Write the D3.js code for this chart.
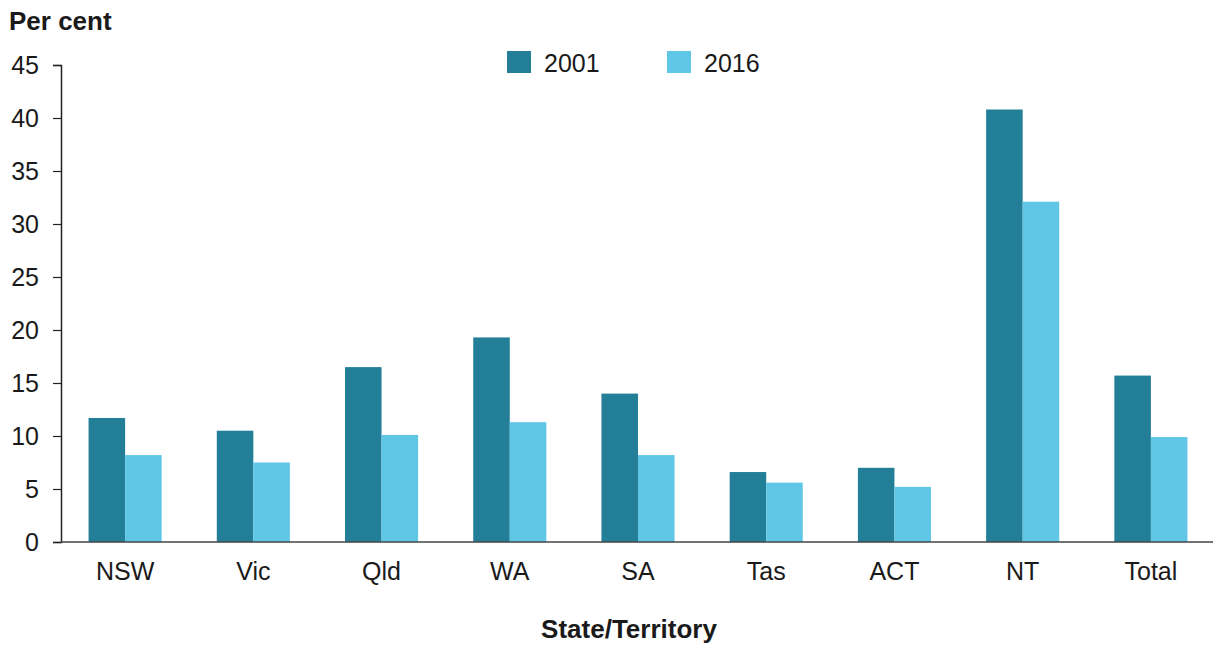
<!DOCTYPE html>
<html>
<head>
<meta charset="utf-8">
<script src="https://cdn.jsdelivr.net/npm/d3@7"></script>
<style>
  body { margin: 0; background: #fff; }
  text { font-family: "Liberation Sans", Arial, sans-serif; fill: #1a1a1a; }
</style>
</head>
<body>
<svg id="chart" width="1213" height="646"></svg>
<script>
var states = ["NSW", "Vic", "Qld", "WA", "SA", "Tas", "ACT", "NT", "Total"];
var years = ["2001", "2016"];
var val2001 = [11.7, 10.5, 16.5, 19.3, 14.0, 6.6, 7.0, 40.8, 15.7];
var val2016 = [8.2, 7.5, 10.1, 11.3, 8.2, 5.6, 5.2, 32.1, 9.9];
var yTicks = [0, 5, 10, 15, 20, 25, 30, 35, 40, 45];
var colors = ["#237f97", "#5fc6e6"];

var svg = d3.select("#chart");

var x = d3.scaleBand()
	.domain(states)
	.range([61, 1215])
	.paddingInner(0.43)
	.paddingOuter(0.215);

var xInner = d3.scaleBand()
	.domain(years)
	.range([0, x.bandwidth()]);

var y = d3.scaleLinear()
	.domain([0, 45])
	.range([542, 65]);

var rows = states.map(function(s, i) {
	return { state: s, values: [val2001[i], val2016[i]] };
});

// bars
var groups = svg.append("g")
	.selectAll("g")
	.data(rows)
	.enter()
	.append("g")
	.attr("transform", function(d) { return "translate(" + x(d.state) + ",0)"; });

groups.selectAll("rect")
	.data(function(d) {
		return d.values.map(function(v, j) { return { year: years[j], v: v, j: j }; });
	})
	.enter()
	.append("rect")
	.attr("x", function(d) { return xInner(d.year); })
	.attr("y", function(d) { return y(d.v); })
	.attr("width", xInner.bandwidth())
	.attr("height", function(d) { return y(0) - y(d.v); })
	.style("fill", function(d) { return colors[d.j]; });

// y axis
var yAxis = svg.append("g")
	.attr("transform", "translate(61,0)")
	.call(d3.axisLeft(y).tickValues(yTicks).tickSize(8).tickPadding(14));
yAxis.select(".domain").attr("stroke", "#222").attr("stroke-width", 1.5);
yAxis.selectAll(".tick line").attr("stroke", "#222").attr("stroke-width", 1.2);
yAxis.selectAll(".tick text")
	.style("font-size", "25px")
	.attr("fill", "#1a1a1a")
	.attr("dy", "0.35em");

// x axis
var xAxis = svg.append("g")
	.attr("transform", "translate(0," + y(0) + ")")
	.call(d3.axisBottom(x).tickSize(0).tickPadding(20));
xAxis.select(".domain")
	.attr("d", "M61,0H1213")
	.attr("stroke", "#444")
	.attr("stroke-width", 1.5);
xAxis.selectAll(".tick text")
	.style("font-size", "25px")
	.attr("fill", "#1a1a1a");

// titles
svg.append("text")
	.attr("x", 9)
	.attr("y", 30)
	.style("font-size", "26px")
	.style("font-weight", "bold")
	.text("Per cent");

svg.append("text")
	.attr("x", 629)
	.attr("y", 638)
	.attr("text-anchor", "middle")
	.style("font-size", "26px")
	.style("font-weight", "bold")
	.text("State/Territory");

// legend
var legend = svg.append("g")
	.selectAll("g")
	.data(years)
	.enter()
	.append("g")
	.attr("transform", function(d, i) { return "translate(" + (507 + i * 160) + ",51)"; });

legend.append("rect")
	.attr("width", 24)
	.attr("height", 22)
	.style("fill", function(d, i) { return colors[i]; });

legend.append("text")
	.attr("x", 37)
	.attr("y", 21)
	.style("font-size", "25px")
	.text(function(d) { return d; });
</script>
</body>
</html>
